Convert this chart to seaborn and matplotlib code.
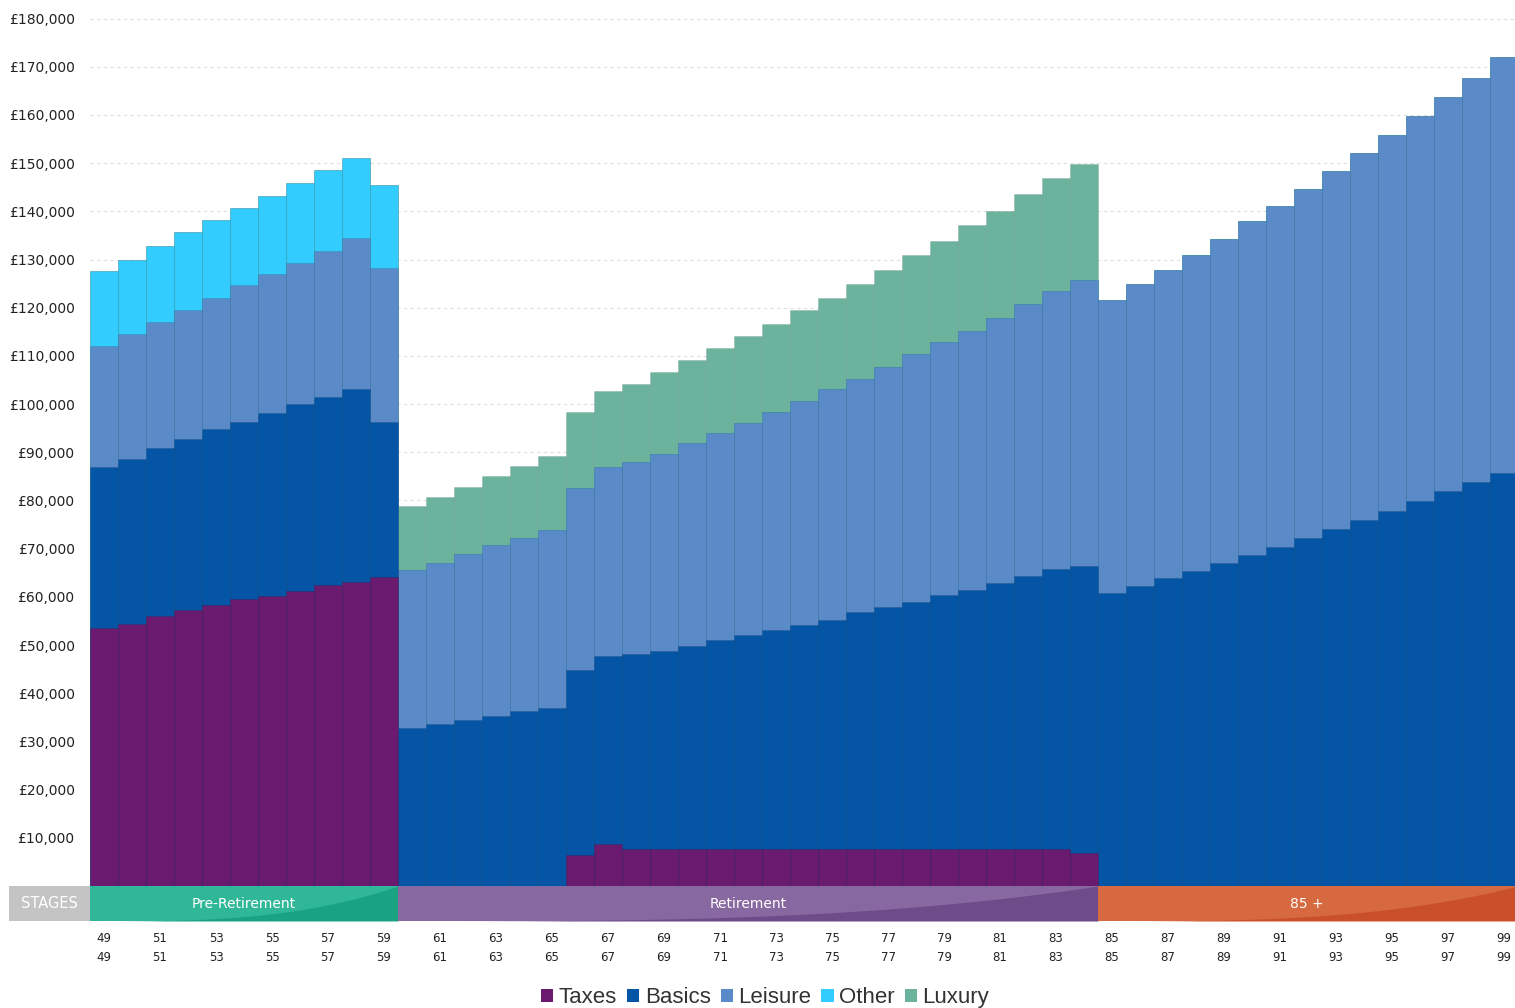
import matplotlib.pyplot as plt
import numpy as np
import pandas as pd
import seaborn as sns
from matplotlib.patches import Patch, Rectangle
from matplotlib.ticker import FuncFormatter

AGES = list(range(49, 100))

# spending per year of age, £ thousands
TAXES = [53.5, 54.4, 56.0, 57.3, 58.3, 59.5, 60.1, 61.2, 62.5, 63.1, 64.1,
         0, 0, 0, 0, 0, 0, 6.4, 8.8, 7.6, 7.6, 7.6, 7.6, 7.6, 7.6, 7.6, 7.6,
         7.6, 7.6, 7.6, 7.6, 7.6, 7.6, 7.6, 7.6, 6.9,
         0, 0, 0, 0, 0, 0, 0, 0, 0, 0, 0, 0, 0, 0, 0]
BASICS = [33.4, 34.3, 34.8, 35.4, 36.5, 36.8, 38.0, 38.8, 38.9, 40.0, 32.2,
          32.7, 33.7, 34.5, 35.2, 36.3, 37.0, 38.5, 39.0, 40.5, 41.2, 42.3, 43.4,
          44.5, 45.6, 46.6, 47.7, 49.2, 50.2, 51.3, 52.8, 53.8, 55.3, 56.7, 58.1, 59.6,
          60.7, 62.2, 64.0, 65.4, 67.1, 68.7, 70.4, 72.2, 74.0, 75.9, 77.9, 79.8,
          81.9, 83.8, 85.8]
LEISURE = [25.2, 25.8, 26.3, 26.8, 27.3, 28.4, 29.0, 29.3, 30.4, 31.3, 31.9,
           32.9, 33.3, 34.3, 35.6, 35.9, 36.9, 37.6, 39.1, 39.8, 40.8, 42.0, 43.0,
           44.0, 45.2, 46.4, 47.8, 48.5, 50.0, 51.4, 52.4, 53.8, 54.9, 56.4, 57.8, 59.2,
           61.0, 62.7, 63.9, 65.6, 67.2, 69.2, 70.7, 72.5, 74.3, 76.3, 77.9, 80.0,
           81.9, 83.9, 86.2]
OTHER = [15.5, 15.5, 15.8, 16.3, 16.2, 16.0, 16.1, 16.5, 16.8, 16.7, 17.2] + [0] * 40
LUXURY = [0] * 11 + [13.3, 13.8, 14.1, 14.3, 15.0, 15.4, 15.9, 15.8, 16.2, 17.0,
                     17.3, 17.6, 18.0, 18.3, 19.0, 19.0, 19.6, 20.1, 20.7, 21.1,
                     22.0, 22.3, 23.0, 23.4, 24.1] + [0] * 15

SERIES = ["Taxes", "Basics", "Leisure", "Other", "Luxury"]
COLORS = {"Taxes": "#6A1B6F", "Basics": "#0455A5", "Leisure": "#5A8AC8",
          "Other": "#33CCFF", "Luxury": "#6BB39C"}

STAGE_NAMES = ["Pre-Retirement", "Retirement", "85 +"]
STAGE_FIRST = [49, 60, 85]
STAGE_LAST = [59, 84, 99]
STAGE_LIGHT = ["#2FB797", "#8868A0", "#D6693F"]
STAGE_DARK = ["#19A383", "#6E4C89", "#C9502A"]

df = pd.DataFrame({"age": AGES, "Taxes": TAXES, "Basics": BASICS,
                   "Leisure": LEISURE, "Other": OTHER, "Luxury": LUXURY})
cum = df[SERIES].mul(1000).cumsum(axis=1)
cum["age"] = df["age"]

W, H = 1515, 1008
fig = plt.figure(figsize=(W / 100, H / 100), dpi=100)
ax = fig.add_axes([90 / W, (H - 886) / H, (W - 90) / W, (886 - 10) / H])

# stacked look: draw cumulative totals from the top layer down
for name in reversed(SERIES):
    sns.barplot(data=cum, x="age", y=name, native_scale=True, width=1,
                color=COLORS[name], saturation=1, errorbar=None,
                edgecolor=(0, 0, 0, 0.11), linewidth=0.6, ax=ax)

x_lo, x_hi = 48.5, 48.5 + (W - 90) / 28
ax.set_xlim(x_lo, x_hi)
ax.set_ylim(0, (886 - 10) / 4.819 * 1000)
ax.set_yticks(np.arange(10000, 180001, 10000))
ax.yaxis.set_major_formatter(FuncFormatter(lambda v, p: f"£{v:,.0f}"))
ax.tick_params(axis="y", length=0, pad=11, labelsize=10, labelcolor="#222222")
ax.set_xticks([])
ax.set_xlabel("")
ax.set_ylabel("")
ax.set_axisbelow(True)
ax.yaxis.grid(True, color="#dddddd", linestyle=(0, (3, 3)), linewidth=0.8)
for s in ax.spines.values():
    s.set_visible(False)

# stages band under the bars
bx = fig.add_axes([9 / W, (H - 921) / H, (W - 9) / W, 35 / H])
band_lo = x_lo - 81 / 28
bx.set_xlim(band_lo, x_hi)
bx.set_ylim(0, 1)
bx.add_patch(Rectangle((band_lo, 0), x_lo - band_lo, 1, color="#C4C4C4", lw=0))
bx.text((band_lo + x_lo) / 2, 0.5, "STAGES", color="white", ha="center",
        va="center", fontsize=10.5)
for name, a0, a1, c_light, c_dark in zip(STAGE_NAMES, STAGE_FIRST, STAGE_LAST,
                                         STAGE_LIGHT, STAGE_DARK):
    x0, x1 = a0 - 0.5, a1 + 0.5
    bx.add_patch(Rectangle((x0, 0), x1 - x0, 1, color=c_light, lw=0))
    xs = np.linspace(x0, x1, 80)
    bx.fill_between(xs, 0, ((xs - x0) / (x1 - x0)) ** 3, color=c_dark, lw=0)
    bx.text((x0 + min(x1, x_hi)) / 2, 0.5, name, color="white", ha="center",
            va="center", fontsize=10)
bx.set_yticks([])
bx.set_xticks(AGES[::2])
bx.set_xticklabels([f"{a}\n{a}" for a in AGES[::2]])
bx.tick_params(axis="x", length=0, pad=8, labelsize=8.5, labelcolor="#222222")
for lab in bx.get_xticklabels():
    lab.set_linespacing(1.6)
for s in bx.spines.values():
    s.set_visible(False)

handles = [Patch(facecolor=COLORS[n], label=n) for n in SERIES]
fig.legend(handles=handles, loc="lower center", bbox_to_anchor=(0.505, -0.02),
           ncol=5, frameon=False, handlelength=0.55, handleheight=0.55,
           handletextpad=0.25, columnspacing=0.45, labelcolor="#333333",
           prop={"family": "Liberation Sans", "size": 16})

fig.savefig("out.png", dpi=100)
